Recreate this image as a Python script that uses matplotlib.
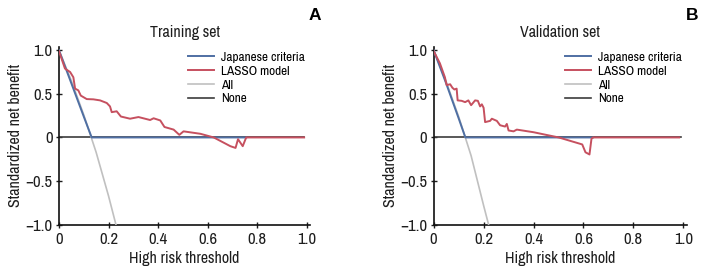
import matplotlib
matplotlib.use("Agg")
import matplotlib.pyplot as plt
from matplotlib import font_manager

# ── Fonte (preferir uma família estreita/condensada) ──────────────────────────
nomes = sorted({f.name for f in font_manager.fontManager.ttflist})
estreitas = [n for n in nomes if "Narrow" in n or "Condensed" in n]
fonte = estreitas[0] if estreitas else "Roboto"
plt.rcParams["font.family"] = [fonte, "DejaVu Sans"]

# ── Dados ─────────────────────────────────────────────────────────────────────
# Training set
treino_lasso_x = [0, 0.024, 0.045, 0.058, 0.065, 0.078, 0.088, 0.112, 0.139, 0.166,
                  0.193, 0.206, 0.213, 0.233, 0.25, 0.287, 0.321, 0.368, 0.382, 0.409,
                  0.426, 0.463, 0.486, 0.503, 0.571, 0.625, 0.692, 0.713, 0.723, 0.742,
                  0.756, 0.99]
treino_lasso_y = [0.99, 0.79, 0.75, 0.69, 0.56, 0.54, 0.48, 0.44, 0.437, 0.425,
                  0.395, 0.356, 0.29, 0.30, 0.24, 0.215, 0.234, 0.20, 0.22, 0.195,
                  0.12, 0.09, 0.03, 0.07, 0.042, 0.0, -0.10, -0.12, -0.02, -0.10,
                  0.0, 0.0]
treino_jap_x = [0, 0.05, 0.10, 0.132, 0.756]
treino_jap_y = [1.0, 0.62, 0.24, 0.0, 0.0]
treino_all_x = [0, 0.05, 0.10, 0.15, 0.20, 0.23]
treino_all_y = [1.0, 0.65, 0.26, -0.17, -0.67, -1.0]

# Validation set
valid_lasso_x = [0, 0.025, 0.045, 0.052, 0.066, 0.075, 0.083, 0.092, 0.096, 0.112,
                 0.126, 0.139, 0.15, 0.166, 0.177, 0.186, 0.193, 0.2, 0.206, 0.226,
                 0.233, 0.253, 0.266, 0.286, 0.293, 0.30, 0.32, 0.333, 0.40, 0.45,
                 0.501, 0.595, 0.608, 0.624, 0.632, 0.638, 0.983]
valid_lasso_y = [0.99, 0.85, 0.69, 0.60, 0.61, 0.57, 0.55, 0.56, 0.425, 0.42,
                 0.405, 0.425, 0.37, 0.425, 0.42, 0.356, 0.38, 0.34, 0.176, 0.19,
                 0.215, 0.19, 0.14, 0.125, 0.155, 0.08, 0.07, 0.09, 0.06, 0.03,
                 0.0, -0.08, -0.17, -0.195, -0.015, 0.0, 0.0]
valid_jap_x = [0, 0.05, 0.10, 0.127, 0.638]
valid_jap_y = [1.0, 0.62, 0.22, 0.0, 0.0]
valid_all_x = [0, 0.05, 0.10, 0.15, 0.20, 0.22]
valid_all_y = [1.0, 0.64, 0.24, -0.21, -0.78, -1.0]

none_x = [0, 0.99]
none_y = [0, 0]

paineis = [
    ("Training set", "A", treino_jap_x, treino_jap_y, treino_lasso_x, treino_lasso_y,
     treino_all_x, treino_all_y),
    ("Validation set", "B", valid_jap_x, valid_jap_y, valid_lasso_x, valid_lasso_y,
     valid_all_x, valid_all_y),
]

AZUL = "#4f6fa3"
VERMELHO = "#c6505f"
CINZA = "#c0c0c0"
PRETO = "#3c3c3c"
TEXTO = "#1e1e1e"

fig = plt.figure(figsize=(7.04, 2.75), dpi=100)
posicoes = [[0.0838, 0.183, 0.357, 0.647], [0.616, 0.183, 0.360, 0.647]]
letras_x = [315 / 704, 692 / 704]

for pos, lx, (titulo, letra, jx, jy, lasx, lasy, ax_x, ax_y) in zip(posicoes, letras_x, paineis):
    ax = fig.add_axes(pos)
    ax.plot(none_x, none_y, color=PRETO, lw=1.2, label="None", zorder=2)
    ax.plot(ax_x, ax_y, color=CINZA, lw=1.2, label="All", zorder=3)
    ax.plot(jx, jy, color=AZUL, lw=1.4, label="Japanese criteria", zorder=4)
    ax.plot(lasx, lasy, color=VERMELHO, lw=1.4, label="LASSO model", zorder=5)

    ax.set_xlim(0, 1.015)
    ax.set_ylim(-1.0, 1.04)
    ax.set_xticks([0, 0.2, 0.4, 0.6, 0.8, 1.0])
    ax.set_xticklabels(["0", "0.2", "0.4", "0.6", "0.8", "1.0"])
    ax.set_yticks([-1.0, -0.5, 0, 0.5, 1.0])
    ax.set_yticklabels(["\u22121.0", "\u22120.5", "0", "0.5", "1.0"])
    ax.tick_params(direction="inout", length=5, width=1.0, labelsize=12,
                   colors=TEXTO, pad=2)
    ax.tick_params(axis="x", pad=3)
    for lado in ["top", "right"]:
        ax.spines[lado].set_visible(False)
    for lado in ["left", "bottom"]:
        ax.spines[lado].set_linewidth(1.2)
        ax.spines[lado].set_color("#111111")

    ax.set_title(titulo, fontsize=11.5, color=TEXTO, pad=7)
    ax.set_xlabel("High risk threshold", fontsize=11.5, color=TEXTO, labelpad=3)
    ax.set_ylabel("Standardized net benefit", fontsize=11.5, color=TEXTO, labelpad=2)

    h, l = ax.get_legend_handles_labels()
    ordem = [2, 3, 1, 0]
    ax.legend([h[i] for i in ordem], [l[i] for i in ordem], loc="upper right",
              bbox_to_anchor=(1.02, 1.032), frameon=False, fontsize=9.5,
              handlelength=2.0, handletextpad=0.5, labelspacing=0.2,
              borderpad=0.3)

    fig.text(lx, 1 - 15 / 275, letra, fontsize=12.5, fontweight="bold",
             ha="center", va="center", family=["Liberation Sans", "DejaVu Sans"])

fig.savefig("out.png", dpi=100)
